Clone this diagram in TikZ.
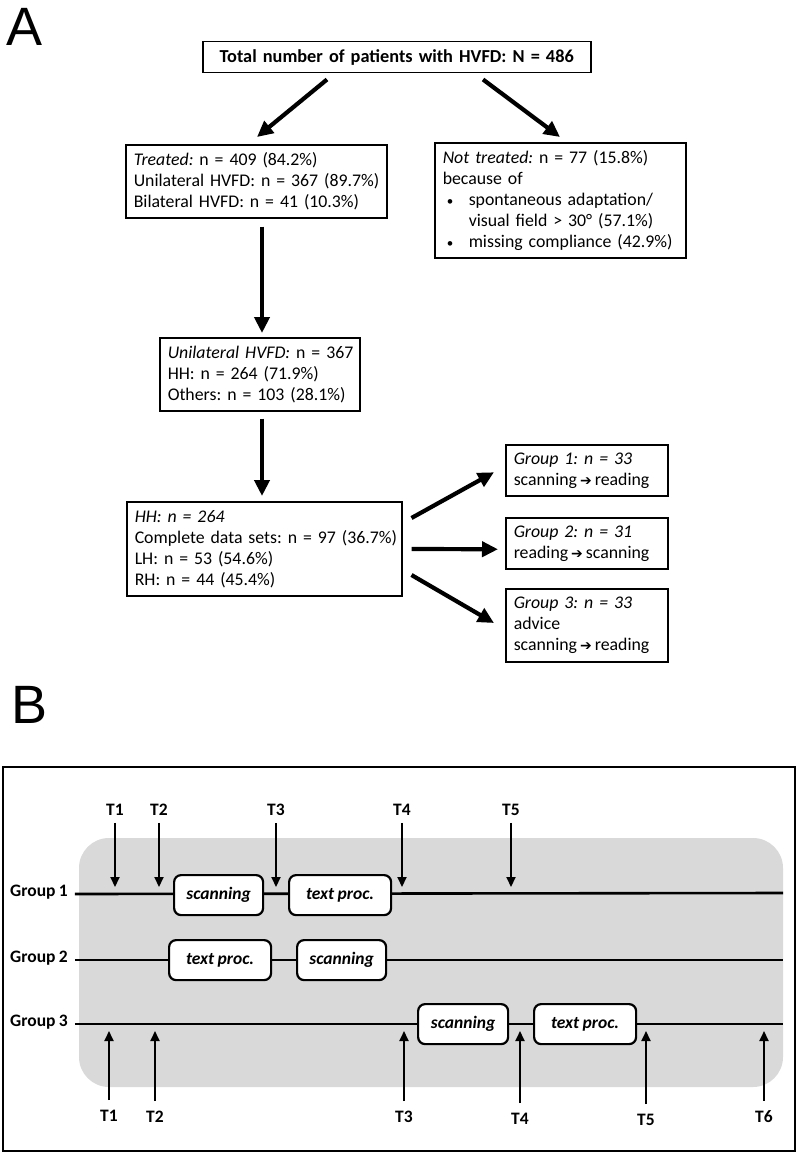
\documentclass[tikz,border=0pt]{standalone}
\usepackage{fontspec}
\setmainfont{Carlito}[WordSpace=0.85]
\newfontfamily\dejavu{DejaVu Sans}
\newfontfamily\arialf{Liberation Sans}
\usetikzlibrary{arrows.meta,calc}
\frenchspacing
\newcommand\fsA{\frenchspacing\fontsize{17.8}{21}\selectfont}
\newcommand\fsT{\frenchspacing\bfseries\fontsize{18.3}{21}\selectfont}
\newcommand\fsB{\frenchspacing\bfseries\fontsize{17.5}{20}\selectfont}
\newcommand\rarr{\,{\dejavu\bfseries\fontsize{14}{14}\selectfont ➔}\,}
\newcommand\oneline[1]{\mbox{#1}}
\newcommand\bul{\makebox[26pt][l]{\hspace{4pt}{\fontsize{13}{13}\selectfont •}}}
\tikzset{
  box/.style={draw, line width=1.5pt, anchor=north west, align=left, inner xsep=8pt, inner ysep=0pt, font=\fsA},
  bigarrow/.style={line width=4.2pt, -{Triangle[length=16pt,width=15pt]}},
  tarrow/.style={line width=2pt, -{Triangle[length=10pt,width=9pt]}},
  tlabel/.style={font=\fsB, inner sep=0pt},
  proc/.style={draw, line width=2.2pt, fill=white, rounded corners=7pt, anchor=north west, inner sep=0pt, font=\fsB\itshape},
  tline/.style={line width=2.6pt},
  panel/.style={font=\arialf\fontsize{54}{54}\selectfont, inner sep=0pt, anchor=north west}
}
\begin{document}
\begin{tikzpicture}[x=1pt,y=-1pt]
\useasboundingbox (0,0) rectangle (797,1153);
% ---------- Panel A ----------
\node[panel] (labA) at (6,8) {A};
\node[box, align=center, font=\fsT, text width=372pt, minimum height=31pt] (top) at (202,41) {Total number of patients with HVFD: N = 486};
\node[box, text width=245pt, minimum height=73pt] (treated) at (125,144)
  {\oneline{\textit{Treated:} n = 409 (84.2\%)}\\\oneline{Unilateral HVFD: n = 367 (89.7\%)}\\\oneline{Bilateral HVFD: n = 41 (10.3\%)}};
\node[box, text width=235pt, minimum height=115pt] (nottreated) at (434,142)
  {\oneline{\textit{Not treated:} n = 77 (15.8\%)}\\\oneline{because of}\\
   \oneline{\bul spontaneous adaptation/}\\
   \oneline{\hspace*{26pt}visual field > 30° (57.1\%)}\\
   \oneline{\bul missing compliance (42.9\%)}};
\node[box, text width=184pt, minimum height=73pt] (uni) at (159,337)
  {\oneline{\textit{Unilateral HVFD:} n = 367}\\\oneline{HH: n = 264 (71.9\%)}\\\oneline{Others: n = 103 (28.1\%)}};
\node[box, text width=259pt, minimum height=94pt] (hh) at (126,501)
  {\oneline{\textit{HH: n = 264}}\\\oneline{Complete data sets: n = 97 (36.7\%)}\\\oneline{LH: n = 53 (54.6\%)}\\\oneline{RH: n = 44 (45.4\%)}};
\node[box, text width=146pt, minimum height=51pt] (g1) at (505,444)
  {\oneline{\textit{Group 1: n = 33}}\\\oneline{scanning\rarr reading}};
\node[box, text width=146pt, minimum height=51pt] (g2) at (505,517)
  {\oneline{\textit{Group 2: n = 31}}\\\oneline{reading\rarr scanning}};
\node[box, text width=146pt, minimum height=73pt] (g3) at (505,588)
  {\oneline{\textit{Group 3: n = 33}}\\\oneline{advice}\\\oneline{scanning\rarr reading}};
% arrows
\draw[bigarrow] ($(top.south west)+(125,6)$) -- ($(treated.north west)+(132,-7)$);
\draw[bigarrow] ($(top.south west)+(281,6)$) -- ($(nottreated.north west)+(126,-5)$);
\draw[bigarrow] ($(treated.south west)+(137,8)$) -- ($(uni.north west)+(103,-4)$);
\draw[bigarrow] ($(uni.south west)+(103,7)$) -- ($(hh.north west)+(136,-5)$);
\draw[bigarrow] ($(hh.north east)+(9,17)$) -- ($(g1.west)+(-11,2)$);
\draw[bigarrow] ($(hh.north east)+(9,48)$) -- ($(g2.west)+(-7,6)$);
\draw[bigarrow] ($(hh.north east)+(9,74)$) -- ($(g3.north west)+(-11,35)$);
% ---------- Panel B ----------
\node[panel] (labB) at (11,686) {B};
\draw[line width=2pt] (3,767) rectangle (795,1151);
\fill[black!15] (79,838) [rounded corners=30pt] rectangle (783,1087);
% timelines
\node[tlabel, anchor=west] (gr1) at (10,892) {Group 1};
\node[tlabel, anchor=west] (gr2) at (10,958) {Group 2};
\node[tlabel, anchor=west] (gr3) at (10,1022) {Group 3};
\coordinate (e1) at (783,893);
\coordinate (e2) at (783,960);
\coordinate (e3) at (783,1024);
\draw[tline] ($(gr1.east)+(7,2)$) -- (e1);
\draw[tline] ($(gr2.east)+(7,2)$) -- (e2);
\draw[tline] ($(gr3.east)+(7,2)$) -- (e3);
% process boxes
\node[proc, minimum width=89pt, minimum height=40pt] (s1) at (173,874) {scanning};
\node[proc, minimum width=102pt, minimum height=40pt] (p1) at (288,874) {text proc.};
\node[proc, minimum width=102pt, minimum height=40pt] (p2) at (168,939) {text proc.};
\node[proc, minimum width=89pt, minimum height=40pt] (s2) at (296,939) {scanning};
\node[proc, minimum width=90pt, minimum height=40pt] (s3) at (417,1003) {scanning};
\node[proc, minimum width=102pt, minimum height=40pt] (p3) at (533,1003) {text proc.};
% top time points
\foreach \n/\x in {1/115,2/159,3/276,4/402,5/511}{
  \node[tlabel] (ta\n) at (\x,810) {T\n};
  \draw[tarrow, shorten <=7pt] (ta\n.south) -- (ta\n.south |- 0,887);
}
% bottom time points
\foreach \n/\x/\y in {1/109/1116,2/155/1117,3/404/1117,4/520/1119,5/646/1120,6/764/1117}{
  \node[tlabel] (tb\n) at (\x,\y) {T\n};
  \draw[tarrow, shorten <=10pt] (tb\n.north) -- (tb\n.north |- 0,1031);
}
\end{tikzpicture}
\end{document}
